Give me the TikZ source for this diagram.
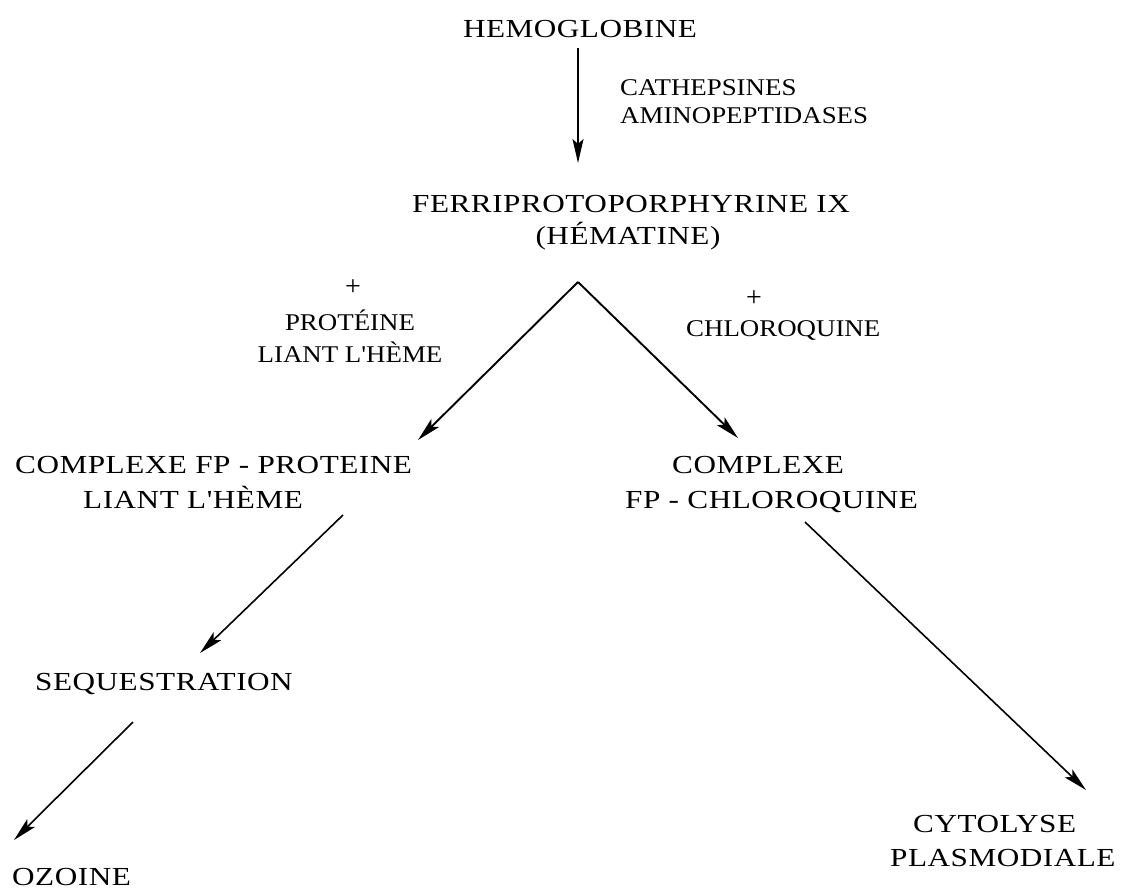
\documentclass[tikz,border=0pt]{standalone}
\usepackage{fontspec}
\setmainfont{Liberation Serif}
\newfontfamily\mainf[FakeStretch=1.2,LetterSpace=2]{Liberation Serif}
\newfontfamily\labf[FakeStretch=1.12]{Liberation Serif}
\usetikzlibrary{arrows.meta}
\begin{document}
\begin{tikzpicture}[x=1pt,y=-1pt,
  big/.style={inner sep=0pt,font=\mainf\fontsize{26}{28}\selectfont},
  lab/.style={inner sep=0pt,font=\labf\fontsize{24}{26}\selectfont},
  plus/.style={inner sep=0pt,font=\fontsize{28}{28}\selectfont},
  arr/.style={line width=1.9pt,-{Stealth[length=24pt,width=11pt,inset=5pt]}},
  arrt/.style={line width=1.6pt,-{Stealth[length=24pt,width=11pt,inset=5pt]}}]
\useasboundingbox[fill=white] (0,0) rectangle (1121,892);
% texts
\node[big,anchor=base] (hemo) at (580,37) {HEMOGLOBINE};
\node[lab,anchor=base west] (cath) at (620,95) {CATHEPSINES};
\node[lab,anchor=base west] (amino) at (620,123) {AMINOPEPTIDASES};
\node[big,anchor=base west] (ferri) at (412,212) {FERRIPROTOPORPHYRINE IX};
\node[big,anchor=base] (hema) at (628,244) {(HÉMATINE)};
\node[plus] (plusL) at (353,288) {+};
\node[lab,anchor=base] (prot) at (350,330) {PROTÉINE};
\node[lab,anchor=base] (liant) at (350,362) {LIANT L'HÈME};
\node[plus] (plusR) at (754,299) {+};
\node[lab,anchor=base west] (chloro) at (686,336) {CHLOROQUINE};
\node[big,anchor=base west] (cfp) at (15,473) {COMPLEXE FP - PROTEINE};
\node[big,anchor=base west] (cfp2) at (83,508) {LIANT L'HÈME};
\node[big,anchor=base west] (cx) at (672,473) {COMPLEXE};
\node[big,anchor=base west] (cx2) at (625,508) {FP - CHLOROQUINE};
\node[big,anchor=base west] (seq) at (35,690) {SEQUESTRATION};
\node[big,anchor=base west] (ozo) at (12,885) {OZOINE};
\node[big,anchor=base west] (cyto) at (913,832) {CYTOLYSE};
\node[big,anchor=base west] (plasmo) at (890,866) {PLASMODIALE};
% connector ends
\coordinate (h1) at (578,48);
\coordinate (h2) at (578,163);
\coordinate (apex) at (578,282);
\coordinate (tl) at (418,440);
\coordinate (tr) at (738,438);
\coordinate (s1) at (343,515);
\coordinate (s2) at (200,653);
\coordinate (o1) at (133,722);
\coordinate (o2) at (14,840);
\coordinate (c1) at (805,522);
\coordinate (c2) at (1086,790);
% connectors
\draw[arr] (h1) -- (h2);
\draw[arr] (apex) -- (tl);
\draw[arr] (apex) -- (tr);
\draw[arrt] (s1) -- (s2);
\draw[arrt] (o1) -- (o2);
\draw[arrt] (c1) -- (c2);
\end{tikzpicture}
\end{document}
